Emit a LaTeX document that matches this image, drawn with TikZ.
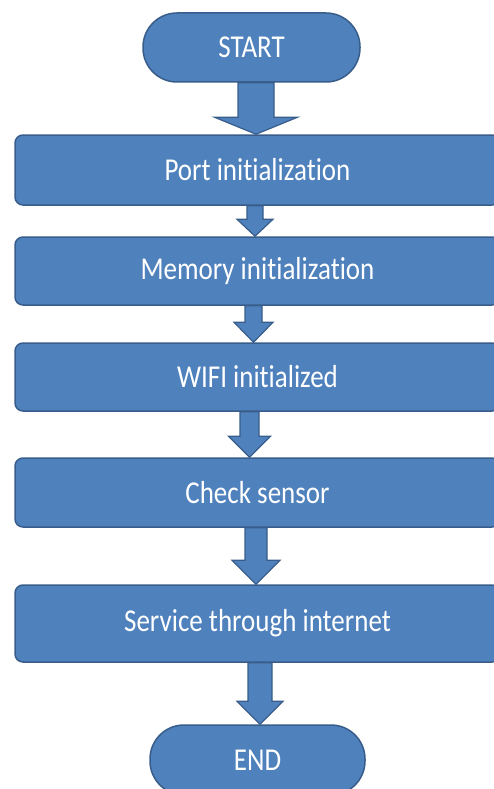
\documentclass[tikz,border=0pt]{standalone}
\usepackage{fontspec}
\setmainfont[Ligatures=NoCommon]{Carlito}
\usepackage{graphicx}
\usetikzlibrary{calc}
\definecolor{boxfill}{RGB}{79,129,189}
\definecolor{boxline}{RGB}{56,93,138}
\newcommand\tallt[1]{\scalebox{1}[1.18]{#1}}
\tikzset{
  procbox/.style={rectangle, rounded corners=8pt, fill=boxfill, draw=boxline, line width=1.5pt,
    minimum width=485pt, text=white, inner sep=0pt, font=\fontsize{27}{30}\selectfont},
  termbox/.style={rectangle, rounded corners=34pt, fill=boxfill, draw=boxline, line width=1.5pt,
    text=white, inner sep=0pt, font=\fontsize{27}{30}\selectfont},
  barrow/.style={fill=boxfill, draw=boxline, line width=1.2pt, line join=miter}
}
\newcommand\blockarrow[6]{%
  \draw[barrow] let \p1=(#2.south), \p2=(#3.north) in
   (#1pt-#4pt,\y1) -- (#1pt+#4pt,\y1) -- (#1pt+#4pt,\y2+#6pt) -- (#1pt+#5pt,\y2+#6pt)
   -- (#1pt,\y2) -- (#1pt-#5pt,\y2+#6pt) -- (#1pt-#4pt,\y2+#6pt) -- cycle;}
\begin{document}
\begin{tikzpicture}[x=1pt,y=-1pt]
\useasboundingbox (0,0) rectangle (494,789);
\clip (0,0) rectangle (494,789);
\node[termbox, minimum width=217pt, minimum height=69pt] (start) at (251.5,47.5) {\tallt{START}};
\node[procbox, minimum height=70pt] (port) at (257.5,170) {\tallt{Port initialization}};
\node[procbox, minimum height=68pt] (mem) at (257.5,271) {\tallt{Memory initialization}};
\node[procbox, minimum height=68pt] (wifi) at (257.5,377) {\tallt{WIFI initialized}};
\node[procbox, minimum height=69pt] (check) at (257.5,492.5) {\tallt{Check sensor}};
\node[procbox, minimum height=77pt] (serv) at (257.5,623.5) {\tallt{Service through internet}};
\node[termbox, minimum width=215pt, minimum height=70pt] (end) at (257.5,760) {\tallt{END}};
\blockarrow{256}{start}{port}{18}{41.5}{17}
\blockarrow{255}{port}{mem}{8}{18}{17}
\blockarrow{253.5}{mem}{wifi}{8.5}{19.5}{20}
\blockarrow{249.5}{wifi}{check}{9.5}{21}{21}
\blockarrow{256}{check}{serv}{11}{24}{24}
\blockarrow{260}{serv}{end}{12}{23}{23}
\end{tikzpicture}
\end{document}
